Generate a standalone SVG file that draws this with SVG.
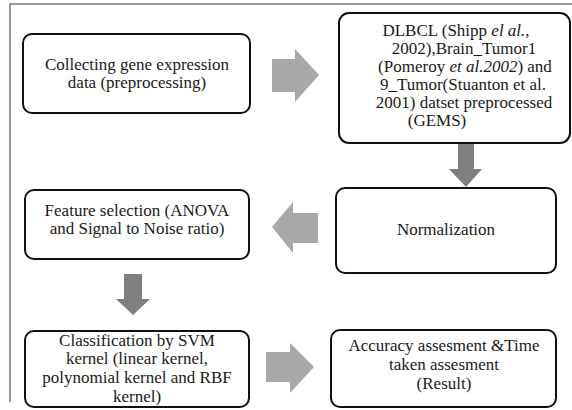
<svg xmlns="http://www.w3.org/2000/svg" width="572" height="410" viewBox="0 0 572 410">
  <style>
    .box { fill: #ffffff; stroke: #111111; stroke-width: 2; }
    .t { font-family: "Liberation Serif", Tinos, "DejaVu Serif", serif; font-size: 17px; fill: #1a1a1a; text-anchor: middle; }
    .i { font-style: italic; }
    .light { fill: #a8a8a8; }
    .dark { fill: #7f7f7f; }
    .frame { stroke: #777777; stroke-width: 1.5; fill: none; }
  </style>
  <rect x="0" y="0" width="572" height="410" fill="#ffffff"/>
  <path class="frame" d="M10,402 V4 H572"/>

  <g id="connectors">
    <polygon class="light" points="272,59 295,59 295,49 319,75 295,102 295,92 272,92"/>
    <polygon class="dark" points="458,143 474,143 474,169 482,169 466,187 449,169 458,169"/>
    <polygon class="light" points="318,213 293,213 293,202 272,227 293,253 293,243 318,243"/>
    <polygon class="dark" points="124,274 142,274 142,299 150,299 133,315 116,299 124,299"/>
    <polygon class="light" points="266,352 290,352 290,343 314,367 290,393 290,382 266,382"/>
  </g>

  <g id="node-collecting">
    <rect class="box" x="23" y="34" width="227" height="79" rx="9"/>
    <text class="t" x="137" y="70">Collecting gene expression</text>
    <text class="t" x="137" y="88">data (preprocessing)</text>
  </g>

  <g id="node-datasets">
    <rect class="box" x="339" y="13" width="231" height="130" rx="10"/>
    <text class="t" x="456" y="36">DLBCL (Shipp <tspan class="i">el al.</tspan>,</text>
    <text class="t" x="464" y="54">2002),Brain_Tumor1</text>
    <text class="t" x="465" y="72">(Pomeroy <tspan class="i">et al.2002</tspan>) and</text>
    <text class="t" x="463" y="90">9_Tumor(Stuanton et al.</text>
    <text class="t" x="464" y="108">2001) datset preprocessed</text>
    <text class="t" x="437" y="126">(GEMS)</text>
  </g>

  <g id="node-normalization">
    <rect class="box" x="336" y="188" width="220" height="85" rx="9"/>
    <text class="t" x="446" y="235">Normalization</text>
  </g>

  <g id="node-feature">
    <rect class="box" x="25" y="190" width="224" height="69" rx="9"/>
    <text class="t" x="137" y="216">Feature selection (ANOVA</text>
    <text class="t" x="137" y="234">and Signal to Noise ratio)</text>
  </g>

  <g id="node-classification">
    <rect class="box" x="25" y="331" width="224" height="76" rx="9"/>
    <text class="t" x="137" y="346">Classification by SVM</text>
    <text class="t" x="137" y="364">kernel (linear kernel,</text>
    <text class="t" x="137" y="383">polynomial kernel and RBF</text>
    <text class="t" x="137" y="402">kernel)</text>
  </g>

  <g id="node-accuracy">
    <rect class="box" x="331" y="330" width="225" height="77" rx="9"/>
    <text class="t" x="444" y="351">Accuracy assesment &amp;Time</text>
    <text class="t" x="444" y="370">taken assesment</text>
    <text class="t" x="444" y="389">(Result)</text>
  </g>
</svg>
